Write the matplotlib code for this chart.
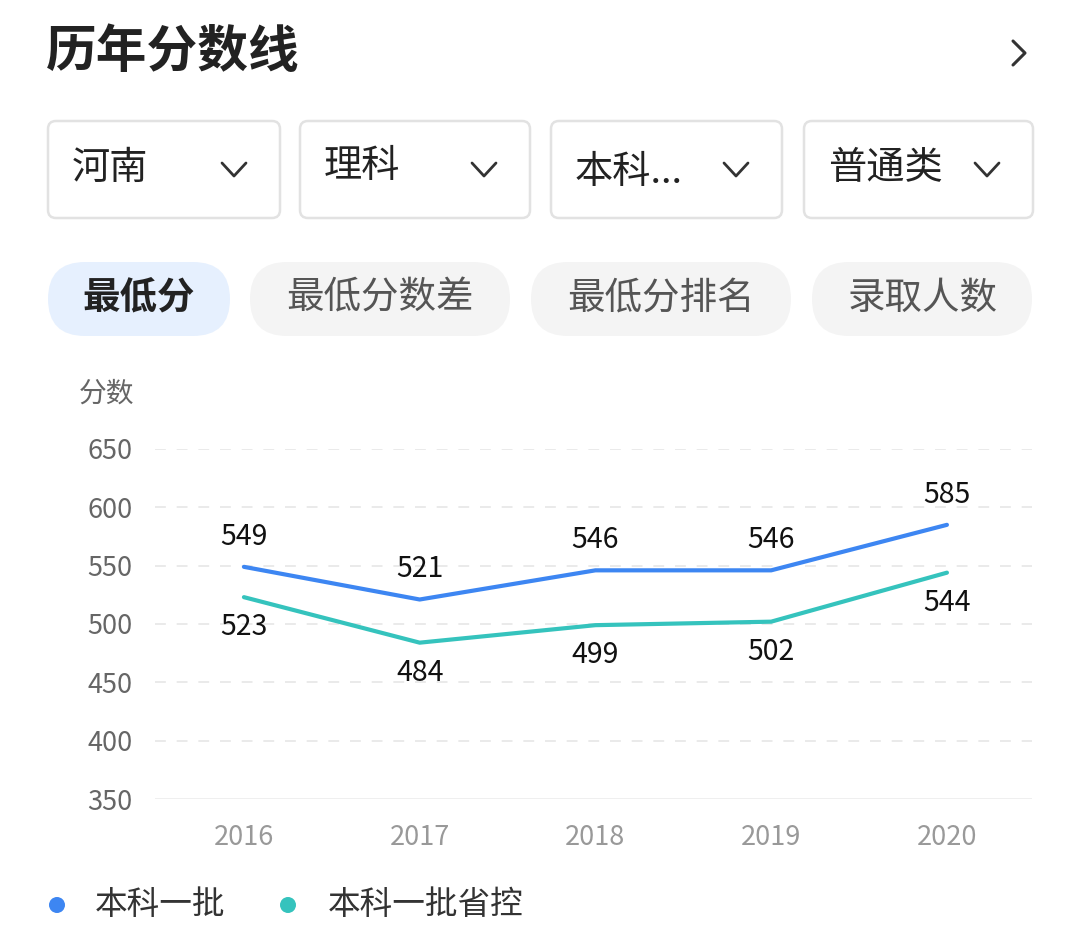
import matplotlib
matplotlib.use("Agg")
import matplotlib.pyplot as plt
from matplotlib.patches import FancyBboxPatch, Circle

plt.rcParams['font.family'] = ['Noto Sans CJK SC', 'DejaVu Sans']

years = [2016, 2017, 2018, 2019, 2020]
batch1 = [549, 521, 546, 546, 585]
batch1_ctrl = [523, 484, 499, 502, 544]
series_names = ["本科一批", "本科一批省控"]
yticks = [350, 400, 450, 500, 550, 600, 650]
filters = ["河南", "理科", "本科...", "普通类"]
tabs = ["最低分", "最低分数差", "最低分排名", "录取人数"]

blue = "#3d86f2"
teal = "#35c3bd"

W, H = 1080, 951
fig = plt.figure(figsize=(W / 100, H / 100), dpi=100)

# overlay in pixel coords for the app ui around the chart
ui = fig.add_axes([0, 0, 1, 1])
ui.set_xlim(0, W)
ui.set_ylim(H, 0)
ui.axis("off")

ui.text(46, 53, "历年分数线", fontsize=36.5, fontweight="bold", color="#222222",
        va="center", ha="left")
ui.plot([1013, 1025, 1013], [41, 53, 65], color="#333333", lw=2.2,
        solid_capstyle="round", solid_joinstyle="round")

# dropdown boxes
boxes = [(48, 280), (300, 530), (551, 782), (804, 1033)]
text_y = [168, 166, 172, 168]
for (x0, x1), label, ty in zip(boxes, filters, text_y):
    ui.add_patch(FancyBboxPatch((x0, 121), x1 - x0, 97,
                                boxstyle="round,pad=0,rounding_size=8",
                                fc="white", ec="#e2e2e2", lw=1.8))
    ui.text(x0 + 24, ty, label, fontsize=27.5, color="#222222",
            va="center", ha="left")
    cx = x1 - 46
    ui.plot([cx - 12, cx, cx + 12], [163, 176, 163], color="#333333", lw=2,
            solid_capstyle="round", solid_joinstyle="round")

# tab pills
pills = [(48, 230), (250, 510), (531, 791), (812, 1032)]
for i, ((x0, x1), label) in enumerate(zip(pills, tabs)):
    sel = i == 0
    ui.add_patch(FancyBboxPatch((x0, 262), x1 - x0, 74,
                                boxstyle="round,pad=0,rounding_size=37",
                                fc="#e6f0fe" if sel else "#f4f4f4", ec="none"))
    ui.text((x0 + x1) / 2, 298, label, fontsize=27,
            fontweight="bold" if sel else "normal",
            color="#222222" if sel else "#555555", va="center", ha="center")

ui.text(107, 394, "分数", fontsize=20, color="#666666", va="center", ha="center")

# legend
for cx, tx, col, name in [(57, 95, blue, series_names[0]),
                          (288, 328, teal, series_names[1])]:
    ui.add_patch(Circle((cx, 905), 8, fc=col, ec="none"))
    ui.text(tx, 905, name, fontsize=23.5, color="#333333", va="center", ha="left")

# chart
ax = fig.add_axes([155 / W, (H - 799) / H, (1032 - 155) / W, 350 / H])
ax.set_xlim(2015.494, 2020.484)
ax.set_ylim(350, 650)
ax.patch.set_alpha(0)
for s in ax.spines.values():
    s.set_visible(False)
ax.axhline(350, color="#eeeeee", lw=2, zorder=0)
for v in yticks[1:]:
    ax.axhline(v, color="#e8e8e8", lw=1.3, ls=(0, (6, 6)), zorder=0)

ax.plot(years, batch1, color=blue, lw=3, solid_capstyle="round")
ax.plot(years, batch1_ctrl, color=teal, lw=3, solid_capstyle="round")
for x, a, b in zip(years, batch1, batch1_ctrl):
    ax.annotate(str(a), (x, a), xytext=(0, 11), textcoords="offset points",
                ha="center", va="bottom", fontsize=20.5, color="#111111")
    ax.annotate(str(b), (x, b), xytext=(0, -11), textcoords="offset points",
                ha="center", va="top", fontsize=20.5, color="#111111")

ax.set_yticks(yticks)
ax.set_xticks(years)
ax.tick_params(axis="both", length=0)
ax.tick_params(axis="y", labelsize=19.5, labelcolor="#666666", pad=16)
ax.tick_params(axis="x", labelsize=19.5, labelcolor="#999999", pad=18)

fig.savefig("out.png", dpi=100)
